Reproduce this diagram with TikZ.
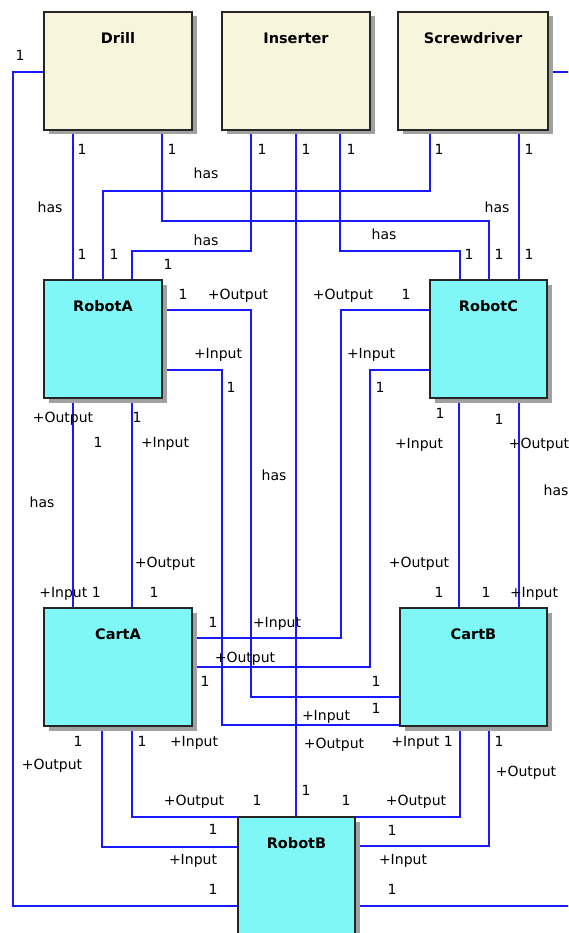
\documentclass[tikz,border=0pt]{standalone}
\usepackage{fontspec}
\setmainfont{DejaVu Sans}
\usetikzlibrary{shadows}
\definecolor{beige}{RGB}{247,246,220}
\definecolor{cyanbox}{RGB}{128,247,247}
\definecolor{wire}{RGB}{25,25,255}
\definecolor{shade}{RGB}{160,160,160}
\pgfdeclarelayer{bg}
\pgfsetlayers{bg,main}
\tikzset{
  classbox/.style={draw=black!85, line width=1.3pt, inner sep=0pt, outer sep=0pt, anchor=north west,
    drop shadow={shadow xshift=4.5pt, shadow yshift=-4.5pt, fill=shade, opacity=1}},
  toolbox/.style={classbox, fill=beige},
  unitbox/.style={classbox, fill=cyanbox},
  boxtitle/.style={anchor=base, yshift=-31.5pt, font=\fontsize{14.5}{16}\selectfont\bfseries, inner sep=0pt},
  wirel/.style={draw=wire, line width=1.3pt},
  lbl/.style={font=\fontsize{14}{16}\selectfont, inner sep=0pt, text height=10pt, text depth=0pt, anchor=center},
}
\begin{document}
\begin{tikzpicture}[x=1pt,y=-1pt]
\useasboundingbox (0,0) rectangle (568,933);
\clip (0,0) rectangle (568,933);
% boxes
\node[toolbox, minimum width=148pt, minimum height=118pt, label={[boxtitle]north:Drill}] (drill) at (44,12) {};
\node[toolbox, minimum width=148pt, minimum height=118pt, label={[boxtitle]north:Inserter}] (inserter) at (222,12) {};
\node[toolbox, minimum width=150pt, minimum height=118pt, label={[boxtitle]north:Screwdriver}] (screwdriver) at (398,12) {};
\node[unitbox, minimum width=118pt, minimum height=118pt, label={[boxtitle]north:RobotA}] (robotA) at (44,280) {};
\node[unitbox, minimum width=117pt, minimum height=118pt, label={[boxtitle]north:RobotC}] (robotC) at (430,280) {};
\node[unitbox, minimum width=148pt, minimum height=118pt, label={[boxtitle]north:CartA}] (cartA) at (44,608) {};
\node[unitbox, minimum width=147pt, minimum height=118pt, label={[boxtitle]north:CartB}] (cartB) at (400,608) {};
\node[unitbox, minimum width=117pt, minimum height=150pt, label={[boxtitle]north:RobotB}] (robotB) at (238,817) {};
% connectors
\begin{pgfonlayer}{bg}
\fill[white] (0,0) rectangle (568,933);
\clip (0,0) rectangle (568,933);
\draw[wirel] (drill.west |- 0,72) -| (13,906) -- (robotB.west |- 0,906);
\draw[wirel] (drill.south -| 73,0) -- (robotA.north -| 73,0);
\draw[wirel] (drill.south -| 162,0) |- (489,221) -- (robotC.north -| 489,0);
\draw[wirel] (inserter.south -| 251,0) |- (132,251) -- (robotA.north -| 132,0);
\draw[wirel] (inserter.south -| 296,0) -- (robotB.north -| 296,0);
\draw[wirel] (inserter.south -| 340,0) |- (460,251) -- (robotC.north -| 460,0);
\draw[wirel] (screwdriver.south -| 430,0) |- (103,191) -- (robotA.north -| 103,0);
\draw[wirel] (screwdriver.south -| 519,0) -- (robotC.north -| 519,0);
\draw[wirel] (screwdriver.east |- 0,72) -| (590,906) -- (robotB.east |- 0,906);
\draw[wirel] (robotA.east |- 0,310) -| (251,697) -- (cartB.west |- 0,697);
\draw[wirel] (robotA.east |- 0,370) -| (222,725) -- (cartB.west |- 0,725);
\draw[wirel] (robotA.south -| 73,0) -- (cartA.north -| 73,0);
\draw[wirel] (robotA.south -| 132,0) -- (cartA.north -| 132,0);
\draw[wirel] (robotC.west |- 0,310) -| (341,638) -- (cartA.east |- 0,638);
\draw[wirel] (robotC.west |- 0,370) -| (370,667) -- (cartA.east |- 0,667);
\draw[wirel] (robotC.south -| 459,0) -- (cartB.north -| 459,0);
\draw[wirel] (robotC.south -| 519,0) -- (cartB.north -| 519,0);
\draw[wirel] (cartA.south -| 102,0) |- (robotB.west |- 0,847);
\draw[wirel] (cartA.south -| 132,0) |- (robotB.north west);
\draw[wirel] (cartB.south -| 460,0) |- (robotB.north east);
\draw[wirel] (cartB.south -| 489,0) |- (robotB.east |- 0,846);
\end{pgfonlayer}
% labels
\foreach \px/\py/\t [count=\i] in {
 20/56/1, 82/150/1, 172/150/1, 262/150/1, 306/150/1, 351/150/1, 439/150/1, 529/150/1,
 206/174/has, 50/207/has, 497/207/has, 384/234/has, 206/240/has,
 82/254/1, 114/254/1, 469/254/1, 499/254/1, 529/254/1, 168/264/1,
 183/294/1, 238/294/+Output, 343/294/+Output, 406/294/1,
 218/353/+Input, 371/353/+Input, 231/387/1, 380/387/1,
 63/417/+Output, 137/417/1, 440/413/1, 499/419/1,
 98/442/1, 165/442/+Input, 419/443/+Input, 539/443/+Output,
 274/475/has, 556/490/has, 42/502/has,
 165/562/+Output, 419/562/+Output,
 70/592/+Input 1, 154/592/1, 439/592/1, 486/592/1, 534/592/+Input,
 213/622/1, 277/622/+Input, 245/657/+Output, 205/681/1,
 376/681/1, 376/708/1, 326/715/+Input,
 78/741/1, 142/741/1, 194/741/+Input, 334/743/+Output, 422/741/+Input 1, 499/741/1,
 52/764/+Output, 526/771/+Output, 306/790/1,
 194/800/+Output, 257/800/1, 346/800/1, 416/800/+Output,
 213/829/1, 392/830/1, 193/859/+Input, 403/859/+Input, 213/889/1, 392/889/1}
 \node[lbl] (L\i) at (\px,\py) {\t};
\end{tikzpicture}
\end{document}
